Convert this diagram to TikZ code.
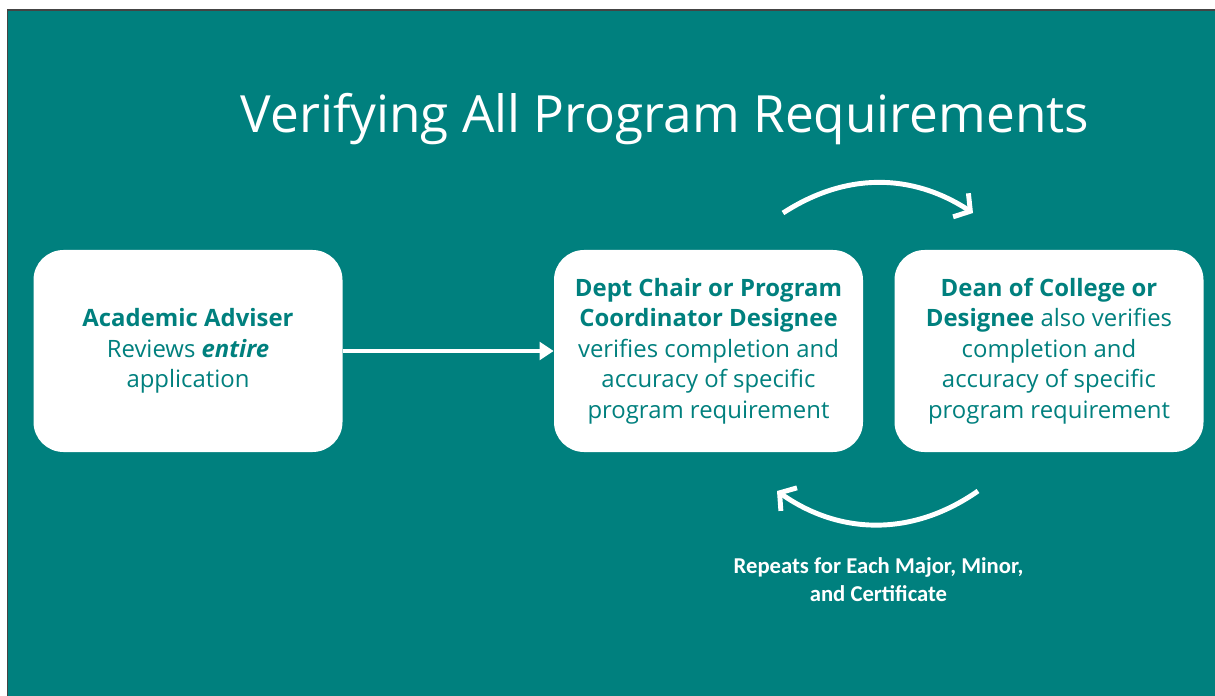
\documentclass[tikz,border=0pt]{standalone}
\usepackage{fontspec}
\setmainfont{Open Sans}
\newfontfamily\notefont{Carlito}
\usepackage{xcolor}
\definecolor{slideteal}{RGB}{0,128,126}
\definecolor{slideframe}{RGB}{68,68,68}
\usepackage{tikz}
\usetikzlibrary{arrows.meta}
\newcommand{\widthbox}{6.18cm}
\newcommand{\heightbox}{4.04cm}
\tikzset{
    common/.style={fill=white, rounded corners=0.6cm, align=center, text=slideteal},
    box/.style={common, minimum width=\widthbox, minimum height=\heightbox, inner sep=0pt,
        font=\fontsize{13.6}{17.3}\selectfont},
    flow/.style={white, line width=2.4pt, -{Triangle[length=8pt, width=10pt]}},
    cycle/.style={white, line width=2.8pt, -{Straight Barb[length=6.5pt, width=16pt]}}
}

\begin{document}
\begin{tikzpicture}
      \useasboundingbox (0,0) rectangle (24.3,-13.92);
      \fill[white] (0,0) rectangle (24.3,-13.92);
      \fill[slideframe] (0.14,-0.18) rectangle (24.3,-13.92);
      \fill[slideteal] (0.17,-0.23) rectangle (24.3,-13.92);

      \node[anchor=base, text=white, font=\fontsize{29.2}{35}\selectfont] (title) at (13.3,-2.66)
          {Verifying All Program Requirements};

      \path
          (3.76,-7.02) node[box] (adviser) {\textbf{Academic Adviser}\\Reviews \textbf{\textit{entire}}\\application}
          to ++(0:10.41) node[box] (chair) {\textbf{Dept Chair or Program}\\\textbf{Coordinator Designee}\\verifies completion and\\accuracy of specific\\program requirement}
          to ++(0:6.81) node[box] (dean) {\textbf{Dean of College or}\\\textbf{Designee} also verifies\\completion and\\accuracy of specific\\program requirement};

      \coordinate (cycle-top-in) at (15.66,-4.26);
      \coordinate (cycle-top-out) at (19.46,-4.26);
      \coordinate (cycle-bottom-in) at (19.56,-9.82);
      \coordinate (cycle-bottom-out) at (15.54,-9.82);

      \draw[flow] (adviser) -- (chair);
      \draw[cycle] (cycle-top-in) to[bend left=33] (cycle-top-out);
      \draw[cycle] (cycle-bottom-in) to[bend left=35] (cycle-bottom-out);

      \node[text=white, align=center, font=\notefont\bfseries\fontsize{12.9}{15.8}\selectfont] (repeats) at (17.57,-11.6)
          {Repeats for Each Major, Minor,\\and Certificate};

  \end{tikzpicture}
\end{document}
